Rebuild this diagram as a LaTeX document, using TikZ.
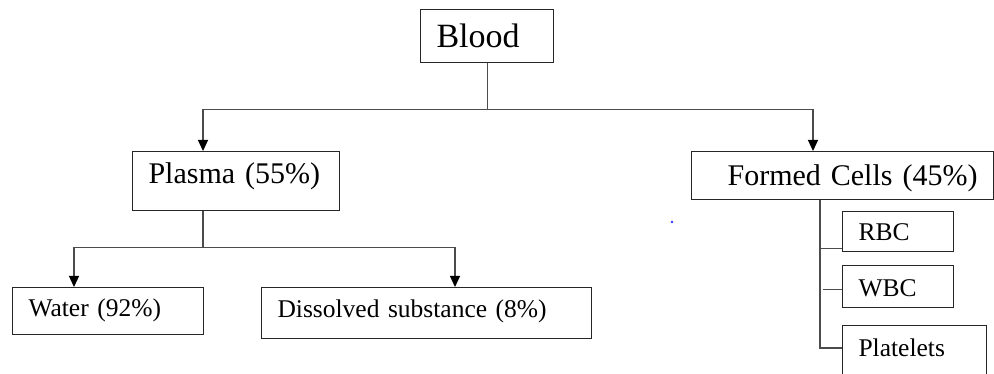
\documentclass[tikz,border=0pt]{standalone}
\usepackage{fontspec}
\setmainfont{Liberation Serif}
\usetikzlibrary{arrows.meta}
\begin{document}
\begin{tikzpicture}[x=1pt,y=-1pt]
	\tikzstyle{boite}=[draw=black!85,line width=1.1pt,anchor=north west,inner xsep=16pt,inner ysep=0pt,text depth=0pt,align=left]
	\tikzstyle{trait}=[draw=black!70,line width=1.1pt]
	\tikzstyle{fleche}=[trait,-{Triangle[width=10pt,length=11pt,color=black]}]
	\def\GrandeTaille{\fontsize{34}{40}\selectfont}
	\def\MoyenneTaille{\fontsize{30}{36}\selectfont}
	\def\PetiteTaille{\fontsize{25.5}{30}\selectfont}
	\useasboundingbox (0,0) rectangle (994,374);
	\clip (0,0) rectangle (994,374);
	%
	\node[boite,font=\GrandeTaille,text width=101pt,minimum height=53pt,text height=23pt] (sang) at (420,9) {Blood};
	\node[boite,font=\MoyenneTaille,text width=175pt,minimum height=59pt,text height=5pt] (plasma) at (132,151) {Plasma (55\%)};
	\node[boite,font=\MoyenneTaille,text width=270pt,minimum height=48pt,text height=20pt,align=right] (formes) at (691,151) {Formed Cells (45\%)};
	\node[boite,font=\PetiteTaille,text width=159pt,minimum height=47pt,text height=11pt] (eau) at (12,287) {Water (92\%)};
	\node[boite,font=\PetiteTaille,text width=298pt,minimum height=51pt,text height=9.6pt] (dissous) at (261,287) {Dissolved substance (8\%)};
	\node[boite,font=\PetiteTaille,text width=79pt,minimum height=40pt,text height=18pt] (rbc) at (842,211) {RBC};
	\node[boite,font=\PetiteTaille,text width=79pt,minimum height=42pt,text height=20pt] (wbc) at (842,265) {WBC};
	\node[boite,font=\PetiteTaille,text width=112pt,text height=31pt,text depth=30pt] (plaquettes) at (842,325) {Platelets};
	%
	\coordinate (pP) at ([xshift=71pt]plasma.north west);
	\coordinate (pF) at ([xshift=122pt]formes.north west);
	\coordinate (pPs) at ([xshift=71pt]plasma.south west);
	\coordinate (pE) at ([xshift=62pt]eau.north west);
	\coordinate (pD) at ([xshift=194pt]dissous.north west);
	\coordinate (pFs) at ([xshift=129pt]formes.south west);
	%
	\draw[fleche] (sang.south) -- ++(0,46) -| (pP);
	\draw[fleche] (sang.south) -- ++(0,46) -| (pF);
	\draw[fleche] (pPs) -- ++(0,36) -| (pE);
	\draw[fleche] (pPs) -- ++(0,36) -| (pD);
	\draw[trait] (pFs) |- ([yshift=-23pt]plaquettes.north west);
	\draw[trait] ([yshift=4pt]rbc.south west) -- ([yshift=4pt]rbc.south west -| pFs);
	\draw[trait] ([yshift=-3pt]wbc.west) -- ++(-19,0);
	\fill[blue!80] (672,222) circle (1.3);
\end{tikzpicture}
\end{document}
